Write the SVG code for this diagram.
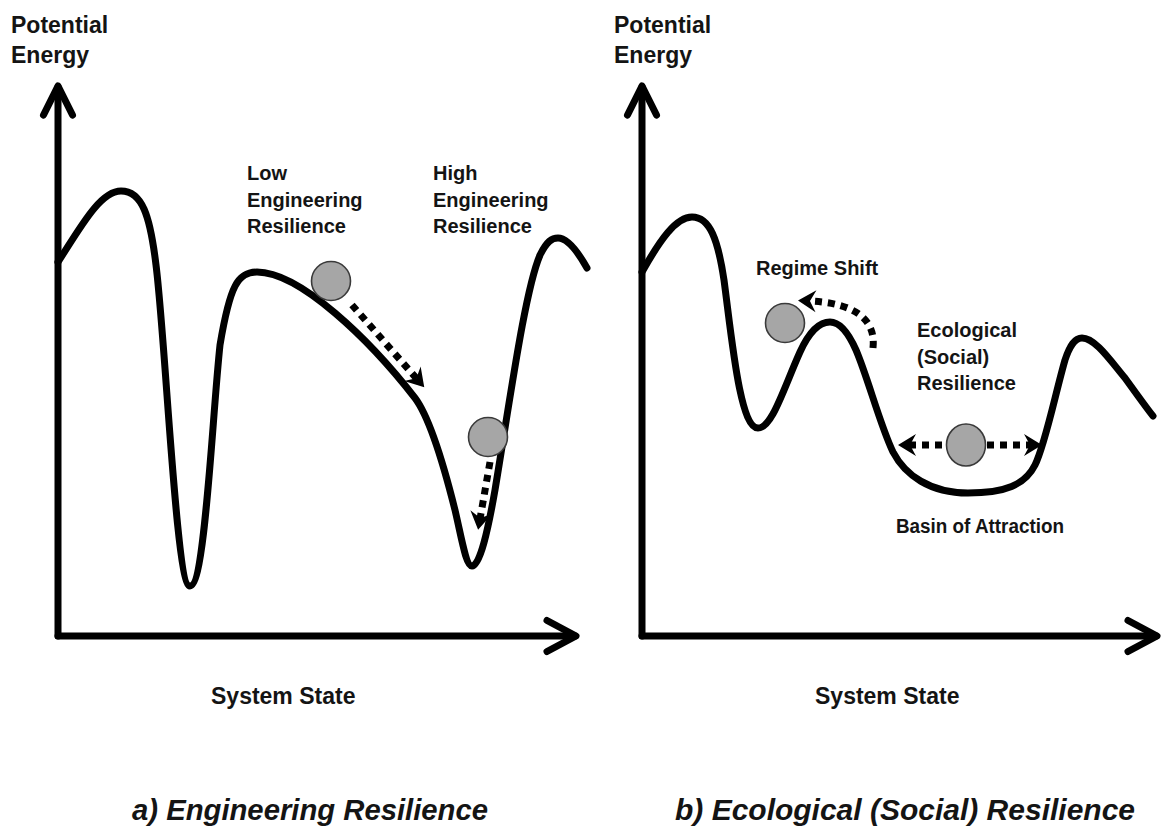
<svg xmlns="http://www.w3.org/2000/svg" width="1163" height="832" viewBox="0 0 1163 832">
<style>
.axis{fill:none;stroke:#000;stroke-width:7;stroke-linecap:round;stroke-linejoin:round}
.curve{fill:none;stroke:#000;stroke-width:7;stroke-linecap:round;stroke-linejoin:round}
.dots{fill:none;stroke:#000;stroke-width:7;stroke-dasharray:7 6}
.ball{fill:#a6a6a6;stroke:#3a3a3a;stroke-width:1.6}
.lbl{font-family:"Liberation Sans",Arial,sans-serif;font-weight:bold;font-size:20px;fill:#141414}
.ax{font-family:"Liberation Sans",Arial,sans-serif;font-weight:bold;font-size:23px;fill:#141414}
.ttl{font-family:"Liberation Sans",Arial,sans-serif;font-weight:bold;font-style:italic;font-size:29px;fill:#141414}
</style>
<defs>
<marker id="head" viewBox="-19 -12 21 24" refX="-11" refY="0" markerWidth="21" markerHeight="24" markerUnits="userSpaceOnUse" orient="auto-start-reverse">
<path d="M-18,-11 L0,0 L-18,11 L-12,0 Z" fill="#000"/>
</marker>
</defs>
<rect width="1163" height="832" fill="#fff"/>

<g id="panel-a-axes">
<path class="axis" d="M58,636 L58,87"/>
<path class="axis" d="M43.5,115 L58,86 L72.5,115"/>
<path class="axis" d="M58,636 L575,636"/>
<path class="axis" d="M547,620.5 L576,636 L547,651.5"/>
<text class="ax" x="11" y="33">Potential</text>
<text class="ax" x="11" y="63">Energy</text>
<text class="ax" x="211" y="704">System State</text>
</g>

<g id="panel-a-curve">
<path class="curve" d="M58,262 C80,228 100,191 121,191 C142,191 150,215 156,265 C166,345 176,586 190,586 C205,586 212,420 220,345 C230,285 238,272 257,272 C300,272 370,340 415,398 C430,418 445,470 455,510 C462,540 466,566 472,566 C480,566 488,530 495,490 C510,400 525,290 540,255 C547,241 552,238 558,238 C568,238 578,252 587,268"/>
</g>

<g id="panel-b-axes">
<path class="axis" d="M642,636 L642,87"/>
<path class="axis" d="M627.5,115 L642,86 L656.5,115"/>
<path class="axis" d="M642,636 L1156,636"/>
<path class="axis" d="M1128,620.5 L1157,636 L1128,651.5"/>
<text class="ax" x="614" y="33">Potential</text>
<text class="ax" x="614" y="63">Energy</text>
<text class="ax" x="815" y="704">System State</text>
</g>

<g id="panel-b-curve">
<path class="curve" d="M642,272 C660,240 676,217 692,217 C710,217 718,240 724,280 C732,340 740,428 758,428 C772,428 783,390 800,352 C810,330 820,322 830,322 C840,322 848,332 856,350 C868,378 880,425 893,452 C905,475 930,493 968,493 C1005,493 1025,485 1035,465 C1045,445 1055,395 1065,360 C1070,345 1075,338 1082,338 C1095,338 1110,360 1125,378 C1138,396 1148,410 1153,416"/>
</g>

<g id="connectors">
<path class="dots" d="M352,305 L417,379" marker-end="url(#head)"/>
<path class="dots" d="M490,462 L480,519" marker-end="url(#head)"/>
<path class="dots" d="M873,348 C876,320 856,303 809,301" marker-end="url(#head)"/>
<path class="dots" d="M909,445 L1031,445" marker-start="url(#head)" marker-end="url(#head)"/>
</g>

<g id="ball-low"><circle class="ball" cx="331" cy="281" r="19.5"/></g>
<g id="ball-high"><circle class="ball" cx="488" cy="437" r="19.5"/></g>
<g id="ball-regime"><circle class="ball" cx="785" cy="323" r="19.5"/></g>
<g id="ball-basin"><ellipse class="ball" cx="966" cy="445" rx="19.5" ry="21"/></g>

<g id="label-low">
<text class="lbl" x="247" y="180">Low</text>
<text class="lbl" x="247" y="207">Engineering</text>
<text class="lbl" x="247" y="233">Resilience</text>
</g>
<g id="label-high">
<text class="lbl" x="433" y="180">High</text>
<text class="lbl" x="433" y="207">Engineering</text>
<text class="lbl" x="433" y="233">Resilience</text>
</g>
<g id="label-regime"><text class="lbl" x="756" y="275">Regime Shift</text></g>
<g id="label-eco">
<text class="lbl" x="917" y="337">Ecological</text>
<text class="lbl" x="917" y="364">(Social)</text>
<text class="lbl" x="917" y="390">Resilience</text>
</g>
<g id="label-basin"><text class="lbl" x="896" y="533" textLength="168" lengthAdjust="spacingAndGlyphs">Basin of Attraction</text></g>

<g id="titles">
<text class="ttl" x="132" y="820" textLength="356" lengthAdjust="spacingAndGlyphs">a) Engineering Resilience</text>
<text class="ttl" x="675" y="820" textLength="460" lengthAdjust="spacingAndGlyphs">b) Ecological (Social) Resilience</text>
</g>
</svg>
